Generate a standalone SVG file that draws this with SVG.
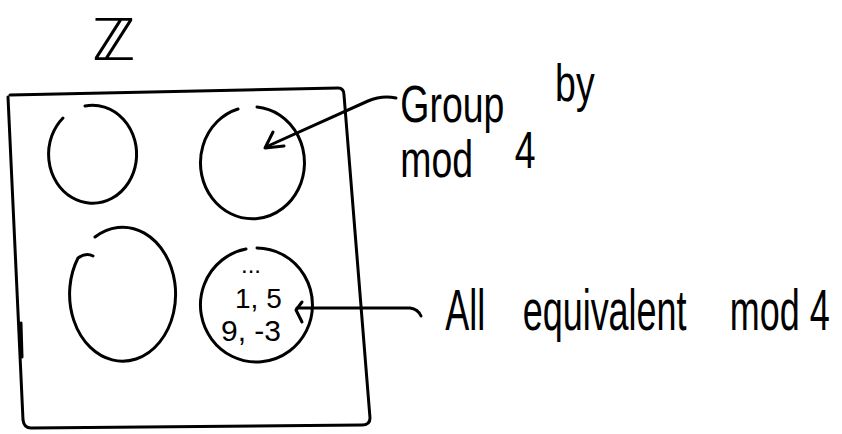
<svg xmlns="http://www.w3.org/2000/svg" width="842" height="434" viewBox="0 0 842 434">
<style>
.ink{fill:none;stroke:#000;stroke-width:3;stroke-linecap:round;stroke-linejoin:round}
.hand{font-family:"Liberation Sans",Arial,sans-serif;fill:#000}
</style>
<rect width="842" height="434" fill="#fff"/>
<g id="title">
<text class="hand" x="92" y="60" style="font-family:'DejaVu Sans',sans-serif;font-size:58px">ℤ</text>
</g>
<g id="integers-box">
<path class="ink" d="M10 95 L338 88 Q344 88 344 95 L370 418 Q370 425 362 425 L31 428 Q24 428 23 420 L8 97"/>
<path class="ink" d="M21 323 L22 357"/>
</g>
<g id="class-top-left">
<path class="ink" d="M85 106 A44 49 0 1 1 63 118"/>
</g>
<g id="class-top-right">
<path class="ink" d="M257 107 A52 56 0 1 1 238 109"/>
</g>
<g id="class-bottom-left">
<path class="ink" d="M95 237 A53 67 0 1 1 78 258 Q86 252 93 256"/>
</g>
<g id="class-bottom-right">
<path class="ink" d="M257 248 A56 57 0 1 1 246 249"/>
<text class="hand" x="241" y="273" style="font-size:24px">...</text>
<text class="hand" x="235" y="308" style="font-size:28px">1, 5</text>
<text class="hand" x="221" y="341" style="font-size:30px">9, -3</text>
</g>
<g id="label-group" transform="scale(0.72,1)">
<text class="hand" style="font-size:52px"><tspan x="556" y="122">Group</tspan><tspan x="771" y="101">by</tspan></text>
<text class="hand" style="font-size:52px"><tspan x="556" y="177">mod</tspan><tspan x="715" y="168">4</tspan></text>
</g>
<g id="label-equiv" transform="scale(0.62,1)">
<text class="hand" style="font-size:58px"><tspan x="718" y="330">All</tspan><tspan x="843" y="330">equivalent</tspan><tspan x="1177" y="330">mod 4</tspan></text>
</g>
<g id="connectors">
<path class="ink" d="M396 98 Q382 95 368 101 L268 146"/>
<path class="ink" d="M273 132 L265 148 L284 146"/>
<path class="ink" d="M297 308 L410 308 Q418 309 421 316"/>
<path class="ink" d="M302 302 L296 310 L302 322"/>
</g>
</svg>
